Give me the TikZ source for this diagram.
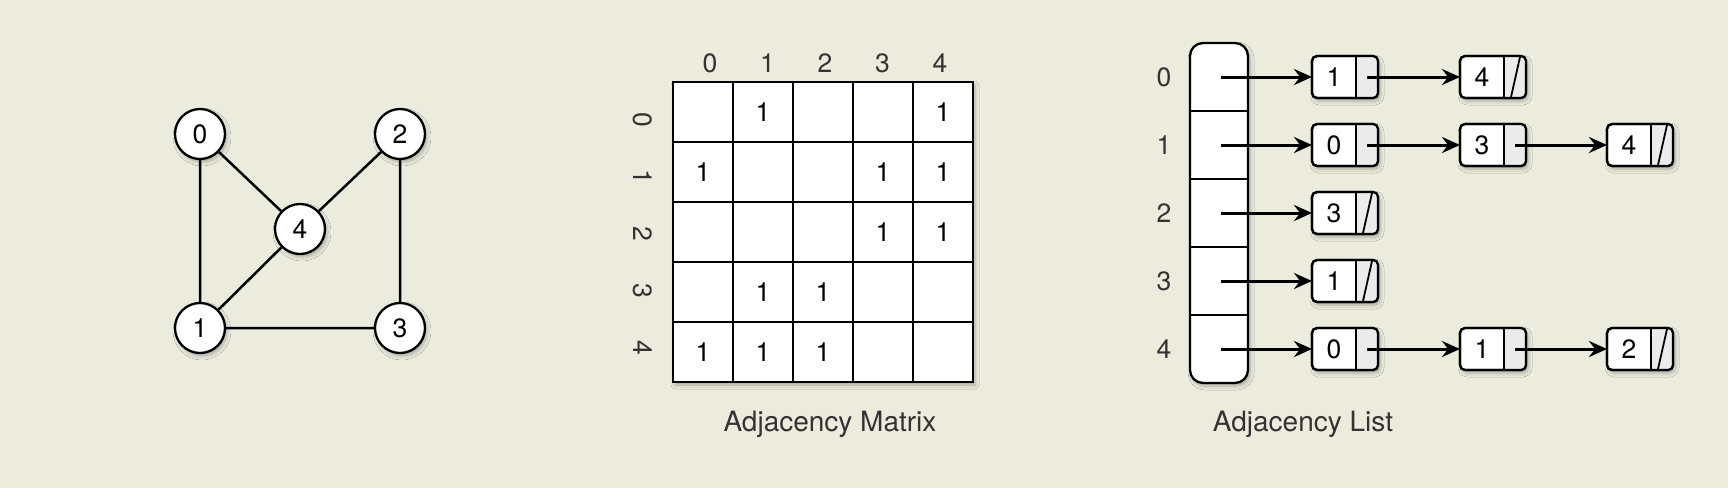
\documentclass[tikz,border=0pt]{standalone}
\usepackage{fontspec}
\setmainfont{TeX Gyre Heros}
\usetikzlibrary{arrows.meta,shadows.blur,calc}
\definecolor{bg}{RGB}{236,236,222}
\definecolor{txt}{RGB}{51,51,51}
\definecolor{nullg}{RGB}{235,235,235}
\newcommand\lnd[4]{%
  \node[lnode] (#1) at (#2,#3) {};
  \begin{scope}
    \clip[rounded corners=5pt] (#1.north west) rectangle (#1.south east);
    \fill[nullg] ($(#1.north east)+(-22,0)$) rectangle (#1.south east);
  \end{scope}
  \draw[line width=2.2pt,rounded corners=5pt] (#1.north west) rectangle (#1.south east);
  \draw[line width=1.8pt] ($(#1.north east)+(-22,0)$) -- ($(#1.south east)+(-22,0)$);
  \node[inner sep=0pt] (#1v) at ($(#1.west)+(22,0)$) {#4};
  \coordinate (#1p) at ($(#1.east)+(-11,0)$);
}
\newcommand\nul[1]{%
  \draw[line width=1.8pt] ($(#1.south east)+(-15,-1)$) -- ($(#1.north east)+(-6,1)$);
}
\begin{document}
\begin{tikzpicture}[x=1pt,y=-1pt,
  every node/.style={font=\fontsize{26.5}{30}\selectfont},
  shd/.style={blur shadow={shadow xshift=2pt,shadow yshift=-3pt,shadow blur radius=4pt,shadow opacity=30}},
  vtx/.style={circle,draw,line width=2.3pt,fill=white,minimum size=50pt,inner sep=0pt,shd},
  gedge/.style={line width=2.5pt},
  cell/.style={rectangle,draw,line width=2.3pt,fill=white,minimum size=60pt,inner sep=0pt},
  lbl/.style={text=txt},
  captxt/.style={text=txt,font=\fontsize{28}{32}\selectfont},
  lnk/.style={line width=3pt,-{Stealth[length=18pt,width=16pt,inset=6pt]}},
  lnode/.style={rectangle,draw,line width=2.2pt,rounded corners=5pt,fill=white,minimum width=66pt,minimum height=42pt,inner sep=0pt,outer sep=0pt,shd},
]
\useasboundingbox (0,0) rectangle (1728,488);
\fill[bg] (0,0) rectangle (1728,488);
% graph
\node[vtx] (v0) at (200,134) {0};
\node[vtx] (v2) at (400,134) {2};
\node[vtx] (v4) at (300,229) {4};
\node[vtx] (v1) at (200,328) {1};
\node[vtx] (v3) at (400,328) {3};
\draw[gedge] (v0)--(v1) (v0)--(v4) (v4)--(v2) (v4)--(v1) (v1)--(v3) (v2)--(v3);
% matrix
\node[shd,fill=white,minimum size=300pt,inner sep=0pt] (mbg) at (823,232) {};
\foreach \i in {0,...,4}{\foreach \j in {0,...,4}{
  \node[cell] (c\i\j) at ({703+60*\j},{112+60*\i}) {};}}
\foreach \i/\j in {0/1,0/4,1/0,1/3,1/4,2/3,2/4,3/1,3/2,4/0,4/1,4/2}
  \node (e\i\j) at (c\i\j) {1};
\foreach \j/\x in {0/710,1/767.5,2/825,3/882.5,4/940}
  \node[lbl] (h\j) at (\x,63) {\j};
\foreach \i/\y in {0/120,1/177,2/234,3/291,4/348}
  \node[lbl,rotate=-90] (r\i) at (643,\y) {\i};
\node[captxt] (capM) at (830,424) {Adjacency Matrix};
% adjacency list
\node[draw,line width=2.3pt,fill=white,rounded corners=13pt,minimum width=58pt,minimum height=340pt,inner sep=0pt,outer sep=0pt,shd] (arr) at (1219,213) {};
\foreach \y in {111,179,247,315}
  \draw[line width=2.3pt] (1190,\y) -- (1248,\y);
\foreach \i/\y in {0/77,1/145,2/213,3/281,4/349}{
  \node[lbl] (L\i) at (1164,\y) {\i};
  \coordinate (a\i) at (1221,\y);}
\lnd{n00}{1345}{77}{1}
\lnd{n01}{1493}{77}{4}\nul{n01}
\lnd{n10}{1345}{145}{0}
\lnd{n11}{1493}{145}{3}
\lnd{n12}{1640}{145}{4}\nul{n12}
\lnd{n20}{1345}{213}{3}\nul{n20}
\lnd{n30}{1345}{281}{1}\nul{n30}
\lnd{n40}{1345}{349}{0}
\lnd{n41}{1493}{349}{1}
\lnd{n42}{1640}{349}{2}\nul{n42}
\draw[lnk] (a0) -- (n00.west);
\draw[lnk] (a1) -- (n10.west);
\draw[lnk] (a2) -- (n20.west);
\draw[lnk] (a3) -- (n30.west);
\draw[lnk] (a4) -- (n40.west);
\draw[lnk] (n00p) -- (n01.west);
\draw[lnk] (n10p) -- (n11.west);
\draw[lnk] (n11p) -- (n12.west);
\draw[lnk] (n40p) -- (n41.west);
\draw[lnk] (n41p) -- (n42.west);
\node[captxt] (capL) at (1303,424) {Adjacency List};
\end{tikzpicture}
\end{document}
